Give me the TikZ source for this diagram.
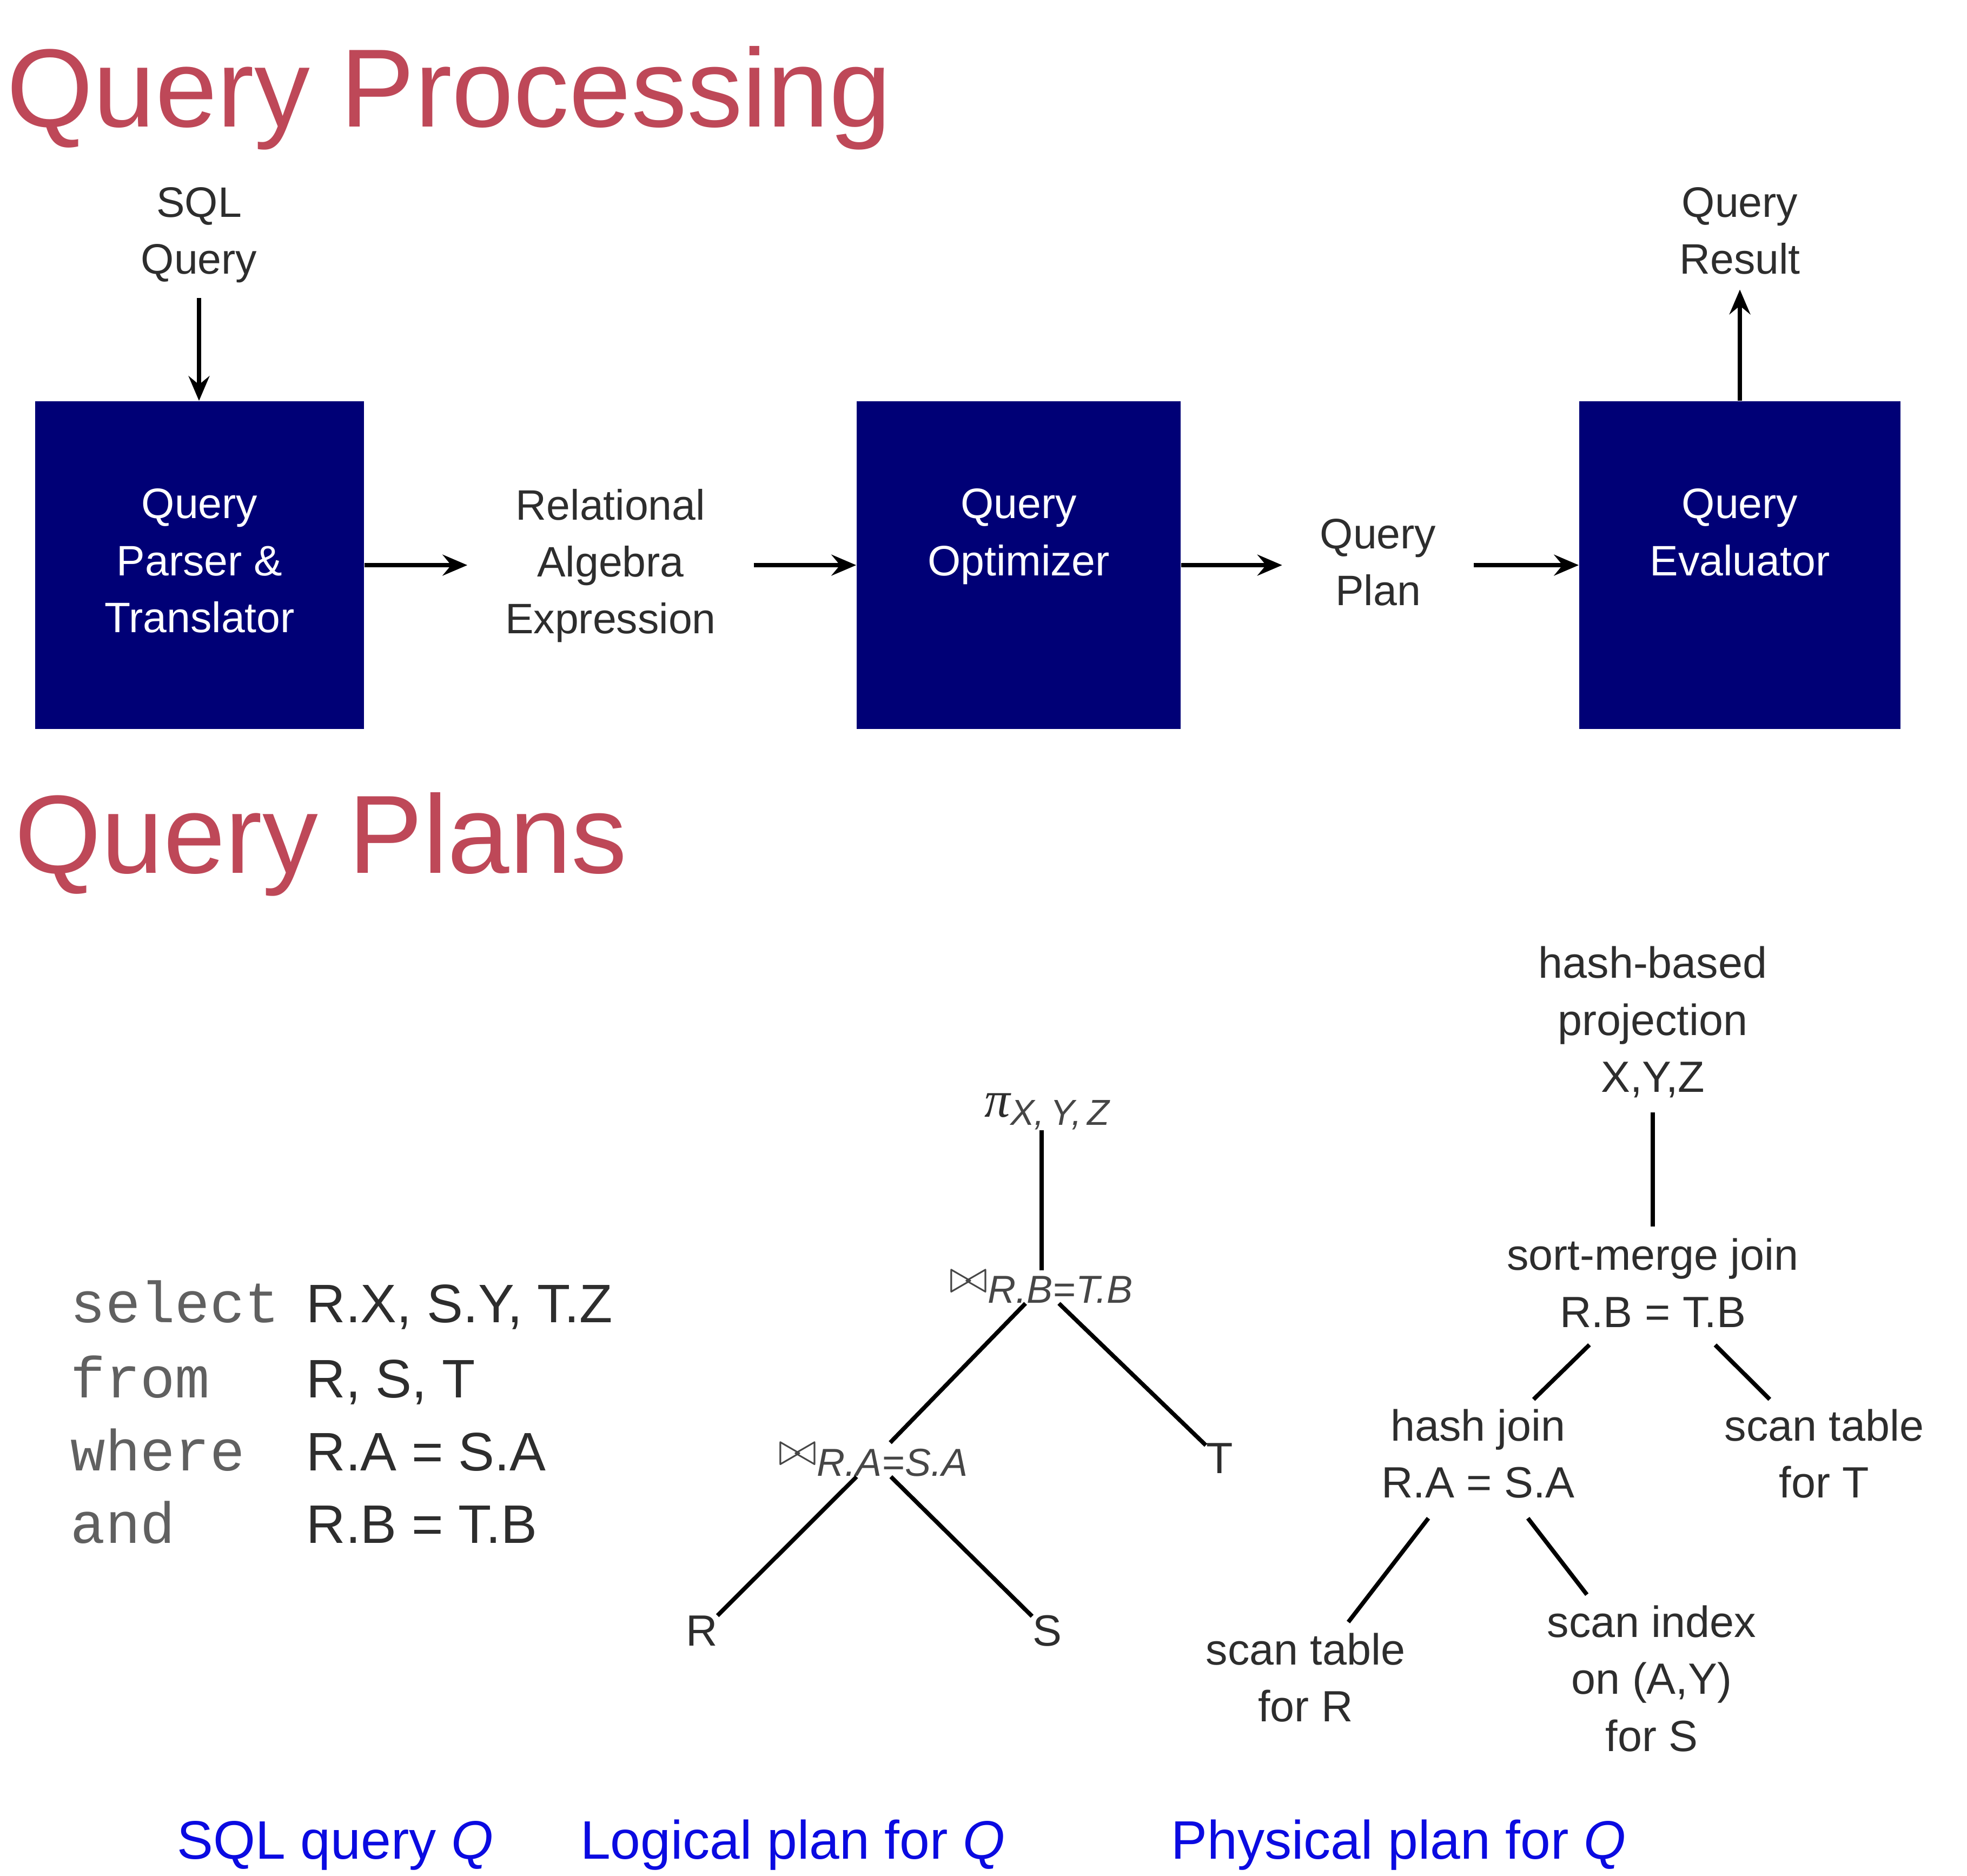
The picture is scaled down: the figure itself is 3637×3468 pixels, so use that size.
\documentclass[tikz,border=0pt]{standalone}
\usepackage{amsmath}
\usepackage{fontspec}
\setmainfont{Liberation Sans}
\setsansfont{Liberation Sans}
\setmonofont{Liberation Mono}
\newfontfamily\piserif{Liberation Serif}
\usetikzlibrary{arrows.meta}
\definecolor{titlered}{RGB}{190,72,88}
\definecolor{navybox}{RGB}{0,0,118}
\definecolor{capblue}{RGB}{10,10,225}
\definecolor{txtgray}{RGB}{45,45,45}
\definecolor{kwgray}{RGB}{96,96,96}
\definecolor{subgray}{RGB}{70,70,70}
\newcommand\subtx[2][20.5]{\text{\color{subgray}\fontsize{#1}{#1}\selectfont\itshape #2}}
\newcommand\bigpi{\text{\piserif\itshape\fontsize{27}{28}\selectfont π}}
\begin{document}
\begin{tikzpicture}[x=0.01cm, y=-0.01cm,
  title/.style={anchor=base west, inner sep=0pt, text=titlered, font=\fontsize{58.5}{70}\selectfont},
  qbox/.style={fill=navybox, draw=none, minimum height=6.06cm, inner sep=0pt},
  boxtext/.style={text=white, align=center, inner sep=0pt, anchor=north, yshift=-1.62cm, font=\fontsize{22.4}{29.9}\selectfont},
  flowlabel/.style={text=txtgray, align=center, inner sep=0pt, outer xsep=0.7cm, outer ysep=0.28cm, font=\fontsize{22.4}{29.9}\selectfont},
  flow/.style={line width=2.2pt, -{Stealth[length=13pt,width=11pt,inset=4.5pt]}},
  kw/.style={anchor=base west, inner sep=0pt, text=kwgray, font=\ttfamily\fontsize{30.5}{34}\selectfont},
  code/.style={anchor=base west, inner sep=0pt, text=txtgray, font=\fontsize{28.5}{32}\selectfont},
  mnode/.style={text=txtgray, inner sep=0pt, font=\fontsize{24}{28}\selectfont},
  jnode/.style={text=subgray, inner sep=0pt, font=\fontsize{27}{30}\selectfont},
  leaf/.style={text=txtgray, inner sep=0pt, font=\fontsize{23}{30}\selectfont},
  tnode/.style={text=txtgray, align=center, inner sep=0pt, font=\fontsize{23}{30}\selectfont},
  ledge/.style={line width=2.2pt},
  tedge/.style={line width=2.2pt, shorten <=13pt, shorten >=7pt},
  caption/.style={anchor=base, inner sep=0pt, text=capblue, font=\fontsize{28.5}{32}\selectfont}
]
\useasboundingbox (0,0) rectangle (3637,3468);

% titles
\node[title] (t1) at (12,234) {Query Processing};
\node[title] (t2) at (27,1614) {Query Plans};

% flow
\node[qbox, minimum width=6.08cm, label={[boxtext]north:{Query\\Parser \&\\Translator}}] (b1) at (369,1045) {};
\node[qbox, minimum width=5.99cm, label={[boxtext]north:{Query\\Optimizer}}] (b2) at (1883.5,1045) {};
\node[qbox, minimum width=5.94cm, label={[boxtext]north:{Query\\Evaluator}}] (b3) at (3217,1045) {};

\node[flowlabel] (sqlq) at (368,435) {SQL\\Query};
\node[flowlabel] (qres) at (3217,427) {Query\\Result};
\node[flowlabel] (lab1) at (1129,1046) {Relational\\Algebra\\Expression};
\node[flowlabel] (lab2) at (2548,1040) {Query\\Plan};

\draw[flow] (sqlq.south) -- (sqlq.south |- b1.north);
\draw[flow] (b1.east) -- (b1.east -| lab1.west);
\draw[flow] (lab1.east |- b2.west) -- (b2.west);
\draw[flow] (b2.east) -- (b2.east -| lab2.west);
\draw[flow] (lab2.east |- b3.west) -- (b3.west);
\draw[flow] (b3.north) -- (b3.north |- qres.south);

% SQL query
\node[kw] (k1) at (130,2445) {select};
\node[kw] (k2) at (130,2584) {from};
\node[kw] (k3) at (130,2719) {where};
\node[kw] (k4) at (130,2853) {and};
\node[code] (c1) at (566,2445) {R.X, S.Y, T.Z};
\node[code] (c2) at (566,2584) {R, S, T};
\node[code] (c3) at (566,2719) {R.A = S.A};
\node[code] (c4) at (566,2853) {R.B = T.B};

% logical plan
\node[mnode, anchor=base west] (pi) at (1820,2065) {$\bigpi_{\subtx[19]{X,\,Y,\,Z}}$};
\node[jnode, anchor=base west] (j1) at (1755,2390) {$\bowtie_{\subtx{R.B=T.B}}$};
\node[jnode, anchor=base west] (j2) at (1439,2709) {$\bowtie_{\subtx{R.A=S.A}}$};
\node[leaf] (lT) at (2255,2697) {T};
\node[leaf] (lR) at (1298,3016) {R};
\node[leaf] (lS) at (1936,3016) {S};
\draw[ledge] (j1.north) -- (j1.north |- pi.south);
\draw[ledge] (j1) -- (j2);
\draw[ledge] (j1) -- (lT);
\draw[ledge] (j2) -- (lR);
\draw[ledge] (j2) -- (lS);

% physical plan
\node[tnode] (proj) at (3056,1890) {hash-based\\projection\\X,Y,Z};
\node[tnode] (smj) at (3056,2372) {sort-merge join\\R.B = T.B};
\node[tnode] (hj) at (2733,2688) {hash join\\R.A = S.A};
\node[tnode] (scanT) at (3373,2688) {scan table\\for T};
\node[tnode] (scanR) at (2414,3102) {scan table\\for R};
\node[tnode] (scanS) at (3054,3104) {scan index\\on (A,Y)\\for S};
\draw[ledge, shorten <=7.5pt, shorten >=6pt] (proj) -- (smj);
\draw[tedge] (smj) -- (hj);
\draw[tedge] (smj) -- (scanT);
\draw[tedge] (hj) -- (scanR);
\draw[tedge] (hj) -- (scanS);

% captions
\node[caption] (cap1) at (620,3437) {SQL query \textit{Q}};
\node[caption] (cap2) at (1466,3437) {Logical plan for \textit{Q}};
\node[caption] (cap3) at (2586,3437) {Physical plan for \textit{Q}};
\end{tikzpicture}
\end{document}
